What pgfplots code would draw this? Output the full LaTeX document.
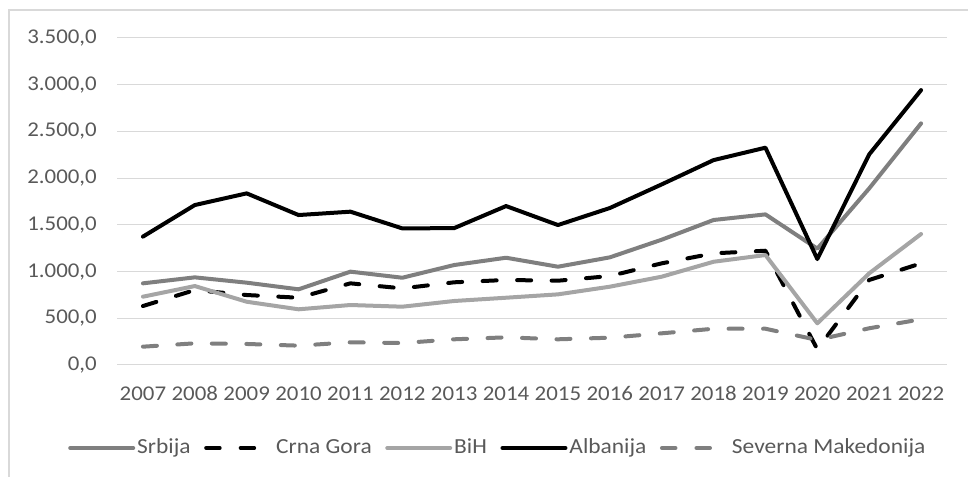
\documentclass[border=0pt]{standalone}
\usepackage{fontspec}
\setmainfont{Carlito}[FakeStretch=1.09]
\usepackage{pgfplots}
\usepackage{pgfplotstable}
\pgfplotsset{compat=1.18}
\definecolor{srb}{HTML}{7F7F7F}
\definecolor{bih}{HTML}{A5A5A5}
\definecolor{txt}{HTML}{595959}
\definecolor{gridc}{HTML}{D9D9D9}
\pgfplotstableread{
x srb cg bih alb smk
0 874 631 731 1374 196
1 938 802 845 1712 232
2 881 749 677 1837 225
3 810 720 596 1605 207
4 999 874 642 1641 243
5 934 820 624 1462 235
6 1070 885 685 1465 275
7 1148 910 720 1701 296
8 1052 902 756 1498 275
9 1152 952 838 1680 292
10 1341 1088 945 1933 339
11 1552 1195 1105 2193 388
12 1612 1223 1177 2326 388
13 1245 168 446 1134 268
14 1890 910 981 2254 393
15 2586 1088 1402 2942 489
}\data
\pgfplotsset{
 solidleg/.style={legend image code/.code={\draw[##1] (2bp,0bp)--(65bp,0bp); \path[draw=none,fill=none] (0bp,-2bp) rectangle (69bp,2bp);}},
 dashleg/.style={legend image code/.code={\draw[##1, solid] (2bp,0bp)--(15.5bp,0bp); \draw[##1, solid] (36.5bp,0bp)--(50bp,0bp); \path[draw=none,fill=none] (0bp,-2bp) rectangle (72bp,2bp);}},
}
\begin{document}
\fontsize{21bp}{25bp}\selectfont
\begin{tikzpicture}[x=1bp,y=1bp]
\useasboundingbox (0,0) rectangle (968,477);
\draw[gridc, line width=1.5bp] (9,-5) -- (9,467) -- (975,467);
\begin{axis}[
 at={(117bp,112bp)}, anchor=south west,
 width=830bp, height=327bp, scale only axis,
 xmin=-0.5, xmax=15.5, ymin=0, ymax=3500,
 xtick={0,...,15},
 xticklabels={2007,2008,2009,2010,2011,2012,2013,2014,2015,2016,2017,2018,2019,2020,2021,2022},
 ytick={0,500,...,3500},
 ymajorgrids, major grid style={gridc, line width=1bp},
 axis line style={draw=none},
 major tick length=0pt,
 tick label style={text=txt},
 /pgf/number format/assume math mode=true,
 yticklabel style={inner xsep=0pt, xshift=-20bp, /pgf/number format/fixed, /pgf/number format/fixed zerofill, /pgf/number format/precision=1, /pgf/number format/use comma, /pgf/number format/1000 sep={.}},
 xticklabel style={inner sep=0pt, anchor=base, yshift=-36bp},
 scaled y ticks=false,
 legend columns=-1,
 legend style={at={(-0.059,-0.2538)}, anchor=west, draw=none, inner sep=0pt, fill=none,
   font=\fontsize{21.5bp}{25bp}\selectfont,
   nodes={inner sep=0pt, text=txt}, column sep=0pt,
   /tikz/every even column/.append style={column sep=13.5bp}},
 every axis plot/.append style={line width=4bp, line cap=round, line join=round},
]
\addplot[srb, solidleg] table[x=x,y=srb]{\data};
\addlegendentry{Srbija}
\addplot[black, dash pattern=on 14bp off 20.5bp, dashleg] table[x=x,y=cg]{\data};
\addlegendentry{Crna Gora}
\addplot[bih, solidleg] table[x=x,y=bih]{\data};
\addlegendentry{BiH}
\addplot[black, solidleg] table[x=x,y=alb]{\data};
\addlegendentry{Albanija}
\addplot[srb, dash pattern=on 14bp off 20.5bp, dashleg] table[x=x,y=smk]{\data};
\addlegendentry{Severna Makedonija}
\end{axis}
\end{tikzpicture}
\end{document}
